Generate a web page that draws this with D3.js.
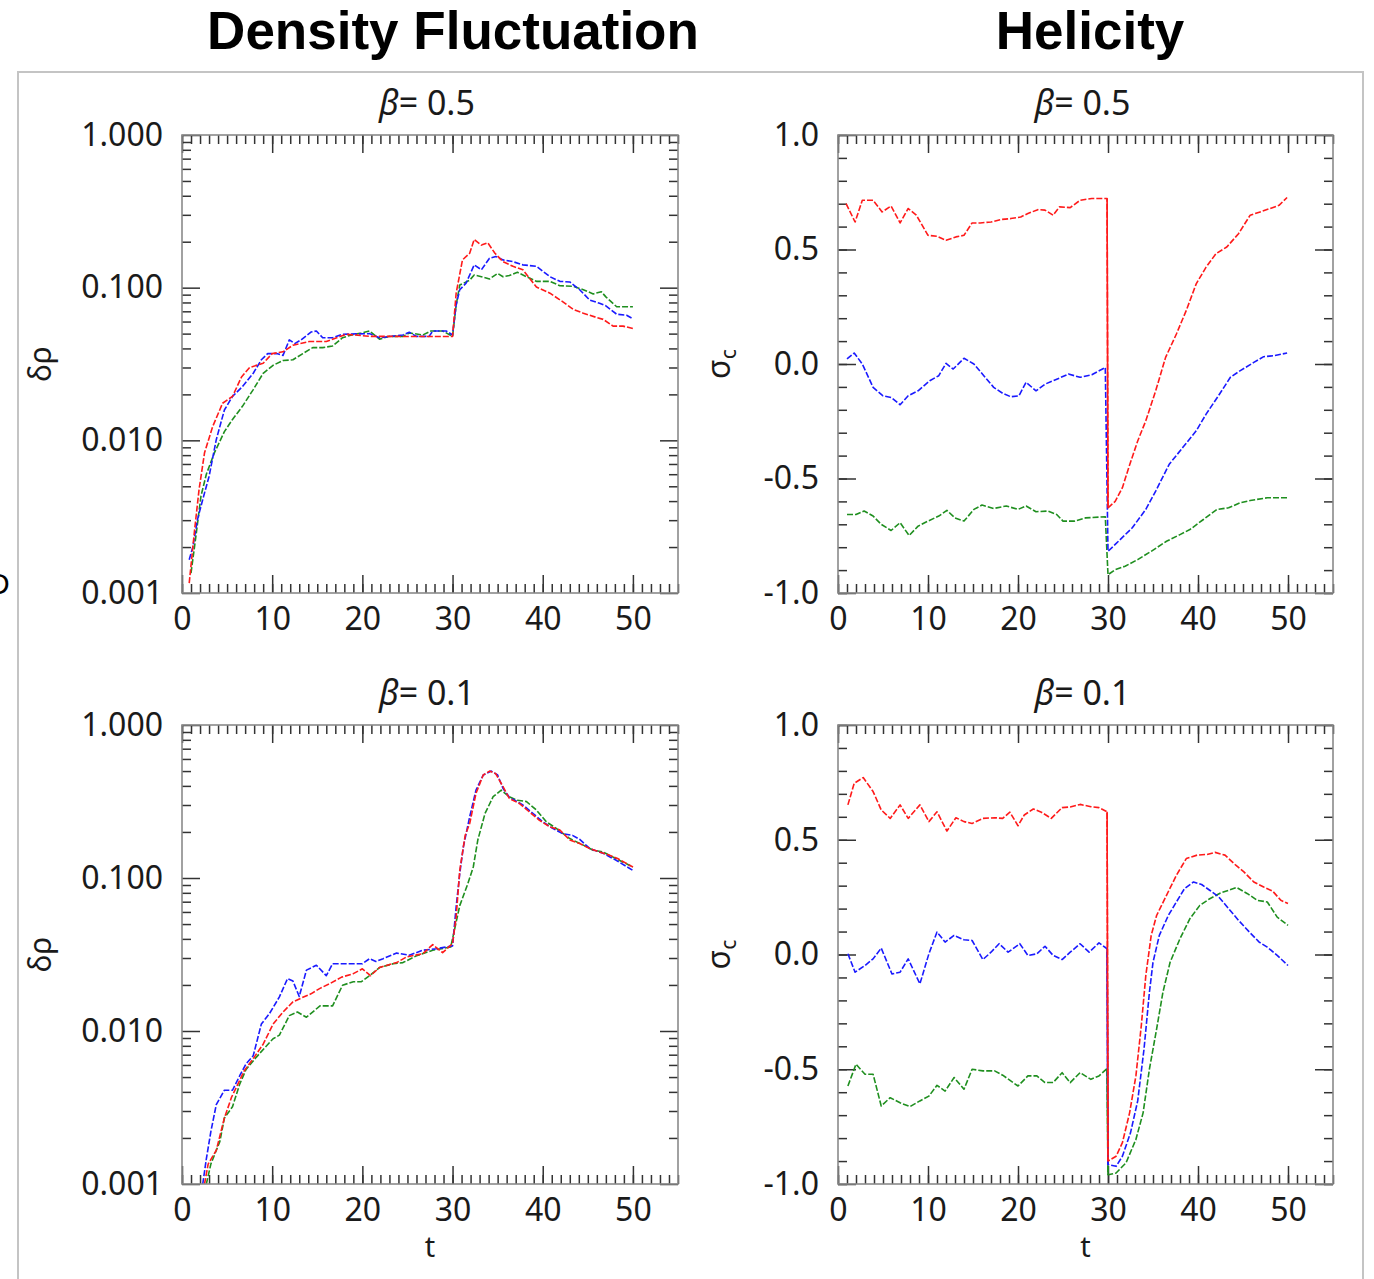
<!DOCTYPE html>
<html>
<head>
<meta charset="utf-8">
<script src="https://cdn.jsdelivr.net/npm/d3@7"></script>
<style>
  body { margin: 0; background: #fff; }
  svg { display: block; }
</style>
</head>
<body>
<script>
// ---- data: [t, value] pairs ----
const densB05Red = [[0.8,0.00116],[1.4,0.0026],[1.9,0.0048],[2.5,0.0083],[3.4,0.0123],[4.5,0.0175],[5.6,0.0194],[6.6,0.026],[7.5,0.030],[9,0.032],[10,0.037],[11.2,0.038],[12.3,0.042],[14.1,0.0444],[16,0.0444],[16.7,0.046],[18.2,0.0495],[20.8,0.048],[25,0.0479],[30,0.0479],[30.4,0.092],[31.1,0.152],[31.9,0.168],[32.4,0.207],[33.2,0.19],[33.9,0.197],[34.7,0.168],[35.6,0.148],[36.7,0.138],[37.8,0.131],[39.3,0.101],[40.8,0.092],[42.2,0.081],[43.4,0.072],[44.5,0.068],[45.9,0.064],[46.7,0.062],[47.8,0.056],[48.9,0.056],[50,0.054]];
const densB05Blue = [[0.8,0.00165],[1.2,0.002],[1.7,0.003],[2.3,0.0041],[3.0,0.0058],[3.8,0.0101],[4.7,0.0158],[5.6,0.0194],[6.7,0.0225],[7.9,0.0275],[8.8,0.0337],[9.5,0.037],[10.5,0.037],[11.2,0.036],[11.9,0.0455],[12.5,0.043],[13.2,0.0455],[14.3,0.0512],[14.9,0.052],[15.6,0.047],[16.7,0.047],[17.8,0.0495],[19.3,0.0498],[20.8,0.05],[21.9,0.047],[24.5,0.049],[25.2,0.051],[26,0.048],[27.4,0.048],[27.8,0.052],[29.3,0.052],[30,0.049],[30.4,0.077],[30.8,0.097],[31.5,0.107],[32.4,0.141],[33.2,0.131],[34.1,0.156],[34.8,0.16],[35.6,0.152],[36.7,0.148],[37.8,0.141],[39.3,0.138],[40.8,0.118],[41.9,0.11],[43,0.109],[44.1,0.097],[45.2,0.083],[46.3,0.079],[47,0.076],[48.2,0.067],[49.3,0.066],[50,0.0625]];
const densB05Green = [[1,0.00135],[1.6,0.0025],[2.1,0.0043],[2.7,0.006],[3.6,0.0083],[4.7,0.0114],[5.6,0.0137],[6.7,0.0167],[7.9,0.0215],[9,0.0275],[10.1,0.031],[11.2,0.0333],[12.3,0.0337],[13.4,0.037],[14.5,0.0405],[15.6,0.0405],[16.7,0.0415],[17.8,0.047],[18.8,0.049],[19.9,0.0505],[20.8,0.052],[21.9,0.046],[23,0.048],[24.5,0.048],[25.2,0.0505],[26.7,0.049],[27.6,0.052],[28.9,0.052],[30,0.048],[30.4,0.077],[30.8,0.104],[31.9,0.112],[32.4,0.121],[33.2,0.118],[34.1,0.114],[35,0.124],[35.6,0.118],[36.3,0.12],[37.2,0.126],[38.2,0.118],[39.3,0.11],[40.8,0.11],[41.9,0.103],[43.4,0.102],[44.5,0.097],[45.6,0.091],[46.5,0.094],[47,0.087],[48.2,0.075],[50,0.075]];

const helB05Red = [[0.9,0.70],[1.9,0.62],[2.7,0.715],[3.9,0.715],[4.9,0.664],[5.9,0.69],[6.9,0.616],[7.8,0.679],[8.7,0.65],[10,0.562],[11,0.558],[12,0.54],[13.1,0.555],[14,0.562],[14.9,0.616],[15.8,0.616],[17,0.62],[18.1,0.631],[19.2,0.635],[20.3,0.642],[21.1,0.657],[22.2,0.674],[23,0.672],[23.9,0.65],[24.6,0.686],[25.8,0.683],[26.9,0.715],[28.2,0.723],[29.9,0.723],[30,-0.628],[30.8,-0.6],[31.6,-0.54],[32.3,-0.453],[33.3,-0.336],[34.2,-0.248],[35.3,-0.117],[36.4,0.029],[37.6,0.131],[38.7,0.234],[39.8,0.35],[40.9,0.423],[42,0.482],[43.2,0.511],[44.5,0.569],[45.8,0.65],[46.9,0.664],[48,0.679],[49,0.693],[49.9,0.727]];
const helB05Blue = [[1,0.022],[1.8,0.048],[2.7,0.0],[3.9,-0.102],[5,-0.139],[5.9,-0.146],[6.9,-0.178],[7.8,-0.139],[8.9,-0.117],[10.2,-0.073],[11.2,-0.051],[12,0.003],[12.8,-0.022],[14,0.025],[15.1,0.0],[16.2,-0.051],[17.3,-0.102],[18.3,-0.128],[19.2,-0.143],[20.1,-0.139],[20.9,-0.08],[22,-0.117],[23,-0.088],[24.1,-0.07],[25.6,-0.044],[26.9,-0.058],[28.2,-0.047],[29.7,-0.015],[30,-0.818],[30.8,-0.788],[32.7,-0.715],[34.2,-0.635],[35.3,-0.555],[36.8,-0.438],[38.3,-0.365],[39.8,-0.292],[40.9,-0.219],[42.4,-0.131],[43.6,-0.058],[44.7,-0.029],[46.2,0.007],[47.3,0.032],[48.4,0.036],[49.9,0.048]];
const helB05Green = [[1,-0.657],[2,-0.657],[2.9,-0.642],[3.9,-0.664],[4.8,-0.70],[5.9,-0.727],[6.9,-0.693],[7.9,-0.749],[8.9,-0.708],[10,-0.686],[11.2,-0.664],[12.1,-0.639],[13,-0.672],[14,-0.686],[15.1,-0.635],[16,-0.616],[17.3,-0.631],[18.7,-0.62],[20,-0.635],[20.9,-0.62],[22,-0.645],[23.3,-0.642],[24.3,-0.657],[25,-0.686],[26.3,-0.686],[27.5,-0.672],[29.7,-0.667],[30,-0.92],[30.8,-0.898],[31.9,-0.883],[33.3,-0.854],[34.8,-0.818],[36.5,-0.774],[38,-0.745],[39.1,-0.723],[40.6,-0.679],[42.1,-0.635],[43.4,-0.628],[44.7,-0.606],[45.8,-0.596],[47.7,-0.584],[49.9,-0.584]];

const densB01Red = [[2.5,0.001],[2.9,0.00135],[3.8,0.00166],[4.7,0.0027],[5.5,0.0037],[6.2,0.0045],[6.9,0.0055],[7.9,0.0066],[9,0.0082],[10.1,0.0111],[11.2,0.0133],[12.3,0.0155],[13.2,0.0164],[14.3,0.0175],[15.3,0.019],[16.4,0.0204],[17.7,0.0225],[19,0.0237],[20,0.0255],[20.9,0.023],[21.9,0.026],[23.8,0.028],[24.9,0.0305],[26.7,0.032],[27.8,0.0367],[28.9,0.0325],[30,0.0373],[30.4,0.0556],[30.8,0.112],[31.4,0.19],[31.9,0.227],[32.6,0.357],[33.4,0.471],[34.1,0.5],[34.8,0.48],[35.6,0.395],[36.3,0.331],[37.4,0.307],[38.5,0.271],[39.6,0.239],[40.8,0.216],[41.9,0.206],[43,0.177],[44.1,0.168],[45.2,0.156],[46.3,0.148],[47.4,0.141],[48.3,0.134],[50,0.118]];
const densB01Blue = [[2.3,0.001],[2.7,0.00146],[3.2,0.0022],[3.8,0.0033],[4.7,0.0041],[5.6,0.0041],[6.4,0.0051],[7.1,0.0061],[7.9,0.0069],[8.8,0.0111],[9.7,0.013],[10.8,0.0167],[11.7,0.022],[12.3,0.0212],[13,0.0168],[13.8,0.025],[14.9,0.0269],[16,0.023],[16.7,0.0275],[18.2,0.0275],[20,0.0275],[20.8,0.0297],[21.5,0.0285],[22.3,0.0297],[23.8,0.0323],[25.2,0.0313],[26.7,0.0337],[28.2,0.0345],[30,0.036],[30.4,0.0647],[30.8,0.107],[31.2,0.16],[31.9,0.251],[32.6,0.375],[33.4,0.471],[34.3,0.5],[35,0.471],[35.6,0.385],[36.3,0.337],[37.8,0.3],[38.9,0.265],[40,0.233],[41.1,0.211],[42.2,0.195],[43.3,0.19],[44.1,0.179],[45.2,0.156],[46.7,0.145],[48.1,0.131],[50,0.112]];
const densB01Green = [[2.7,0.001],[3.2,0.00135],[4.2,0.0019],[4.7,0.0027],[5.6,0.0032],[6.4,0.0045],[7.1,0.0056],[8.2,0.0067],[9.2,0.0078],[10.1,0.0089],[10.8,0.0094],[11.9,0.0126],[12.8,0.0133],[13.8,0.0123],[15.3,0.0146],[16.7,0.0146],[17.8,0.0199],[19,0.021],[19.9,0.021],[20.8,0.023],[21.9,0.026],[23.4,0.0275],[24.5,0.028],[26,0.031],[27.8,0.0337],[29.8,0.0354],[30.8,0.066],[31.7,0.092],[32.3,0.118],[32.8,0.177],[33.6,0.264],[34.5,0.34],[35.4,0.375],[36.3,0.34],[37.1,0.323],[38.2,0.316],[39.3,0.278],[40.4,0.233],[41.5,0.211],[43,0.181],[44.5,0.164],[45.6,0.152],[46.7,0.148],[48.1,0.134],[50,0.118]];

const helB01Red = [[1.1,0.652],[1.8,0.746],[2.8,0.771],[3.9,0.71],[4.8,0.63],[5.8,0.593],[6.9,0.652],[7.8,0.593],[9.1,0.652],[10.1,0.579],[11,0.622],[12.1,0.538],[13.1,0.596],[14,0.579],[14.9,0.571],[16.1,0.593],[17.4,0.596],[18.3,0.593],[19.1,0.62],[20,0.561],[20.7,0.608],[21.7,0.634],[22.6,0.62],[23.7,0.593],[24.9,0.64],[25.8,0.643],[26.9,0.654],[28.1,0.644],[29,0.64],[29.9,0.622],[30,-0.9],[30.9,-0.879],[31.6,-0.82],[32.4,-0.69],[33.1,-0.529],[33.7,-0.31],[34.2,-0.092],[34.8,0.083],[35.4,0.17],[36.5,0.258],[37.6,0.345],[38.7,0.418],[39.9,0.433],[41,0.436],[41.9,0.445],[43,0.433],[44.2,0.389],[45.1,0.36],[46.2,0.316],[47.3,0.294],[48.3,0.276],[49.2,0.236],[50,0.222]];
const helB01Blue = [[1.1,0.003],[1.9,-0.077],[3,-0.048],[3.9,-0.019],[4.8,0.028],[6,-0.085],[6.9,-0.077],[7.8,-0.019],[9.1,-0.128],[10.1,0.003],[11,0.098],[11.9,0.054],[12.9,0.083],[14,0.064],[14.9,0.061],[16.1,-0.022],[17,0.01],[17.9,0.047],[18.9,0.01],[20.2,0.047],[21.1,-0.004],[22.1,0.003],[23,0.036],[23.9,-0.004],[24.9,-0.022],[25.8,0.01],[26.9,0.047],[27.9,0.01],[29,0.051],[29.9,0.025],[30,-0.915],[30.9,-0.923],[31.6,-0.879],[32.5,-0.777],[33.3,-0.638],[34,-0.413],[34.6,-0.165],[35,-0.034],[35.7,0.083],[36.7,0.17],[37.6,0.229],[38.5,0.287],[39.5,0.316],[40.4,0.305],[41.3,0.28],[42.3,0.251],[43.4,0.2],[44.5,0.149],[45.7,0.098],[46.8,0.054],[47.7,0.032],[48.8,-0.004],[50,-0.048]];
const helB01Green = [[1.1,-0.573],[2,-0.478],[3,-0.522],[3.9,-0.522],[4.8,-0.66],[5.8,-0.624],[6.9,-0.646],[8,-0.663],[9.1,-0.638],[10.1,-0.617],[11,-0.57],[11.9,-0.595],[12.9,-0.536],[14,-0.587],[14.9,-0.5],[16.1,-0.507],[17.4,-0.507],[18.3,-0.526],[20,-0.573],[21.1,-0.529],[22.1,-0.529],[23,-0.558],[23.9,-0.558],[24.9,-0.515],[25.8,-0.558],[26.9,-0.515],[28.1,-0.544],[29,-0.529],[29.9,-0.497],[30,-0.96],[30.9,-0.952],[32,-0.908],[33.1,-0.806],[33.9,-0.69],[34.6,-0.5],[35.4,-0.325],[36.1,-0.165],[36.9,-0.034],[38,0.069],[39.1,0.156],[40.2,0.214],[41.3,0.243],[42.5,0.268],[43.4,0.28],[44.3,0.292],[45.5,0.265],[46.6,0.236],[47.7,0.229],[48.8,0.163],[50,0.127]];

// ---- ticks ----
const xMajor = [0, 10, 20, 30, 40, 50];
const xLabels = ["0", "10", "20", "30", "40", "50"];
const xMinor = d3.range(0, 56, 1);
const logMajor = [1, 0.1, 0.01, 0.001];
const logLabels = ["1.000", "0.100", "0.010", "0.001"];
const logMinor = [0.001, 0.01, 0.1].flatMap((d) => d3.range(2, 10).map((k) => d * k));
const linMajor = [1, 0.5, 0, -0.5, -1];
const linLabels = ["1.0", "0.5", "0.0", "-0.5", "-1.0"];
const linMinor = d3.range(-10, 11).map((k) => k / 10);

const colors = { red: "#ff1a1a", blue: "#1a1aff", green: "#1f8f1f" };
const tickFont = "'Noto Sans', 'DejaVu Sans', sans-serif";

const svg = d3.select("body").append("svg").attr("width", 1374).attr("height", 1279);

// outer figure border
svg.append("rect").attr("x", 18).attr("y", 72).attr("width", 1345).attr("height", 1230)
  .attr("fill", "none").attr("stroke", "#c4c4c4").attr("stroke-width", 2);

// column titles
svg.append("text").attr("x", 453).attr("y", 49).attr("text-anchor", "middle")
  .attr("font-family", "'Liberation Sans', Arial, sans-serif").attr("font-weight", "bold").attr("font-size", 53)
  .text("Density Fluctuation");
svg.append("text").attr("x", 1090).attr("y", 49).attr("text-anchor", "middle")
  .attr("font-family", "'Liberation Sans', Arial, sans-serif").attr("font-weight", "bold").attr("font-size", 53)
  .text("Helicity");

// clipped fragment at the left edge (also cut off in the source figure)
svg.append("text").attr("x", -12).attr("y", 594)
  .attr("font-family", "'Liberation Sans', Arial, sans-serif").attr("font-size", 30).text("D");

const panels = [
  { id: "p1", x0: 182, x1: 678, y0: 135, y1: 593, log: true, beta: "0.5", ylab: "dens", xlab: false,
    series: [[densB05Green, "green"], [densB05Blue, "blue"], [densB05Red, "red"]] },
  { id: "p2", x0: 838, x1: 1333, y0: 135, y1: 593, log: false, beta: "0.5", ylab: "hel", xlab: false,
    series: [[helB05Green, "green"], [helB05Blue, "blue"], [helB05Red, "red"]] },
  { id: "p3", x0: 182, x1: 678, y0: 725, y1: 1184, log: true, beta: "0.1", ylab: "dens", xlab: true,
    series: [[densB01Green, "green"], [densB01Blue, "blue"], [densB01Red, "red"]] },
  { id: "p4", x0: 838, x1: 1333, y0: 725, y1: 1184, log: false, beta: "0.1", ylab: "hel", xlab: true,
    series: [[helB01Green, "green"], [helB01Blue, "blue"], [helB01Red, "red"]] },
];

function styleAxis(g) {
  g.select(".domain").remove();
  g.selectAll(".tick line").attr("stroke", "#333").attr("stroke-width", 1.5);
  g.selectAll(".tick text").attr("fill", "#1a1a1a").attr("font-family", tickFont).attr("font-size", 32);
}

panels.forEach((p) => {
  const x = d3.scaleLinear().domain([0, 55]).range([p.x0, p.x1]);
  const y = p.log
    ? d3.scaleLog().domain([0.001, 1]).range([p.y1, p.y0])
    : d3.scaleLinear().domain([-1, 1]).range([p.y1, p.y0]);
  const yMajor = p.log ? logMajor : linMajor;
  const yMinor = p.log ? logMinor : linMinor;
  const yLabels = p.log ? logLabels : linLabels;
  const g = svg.append("g");

  // minor ticks, all four sides
  g.append("g").attr("transform", `translate(0,${p.y1})`)
    .call(d3.axisBottom(x).tickValues(xMinor).tickSize(-9).tickFormat("")).call(styleAxis);
  g.append("g").attr("transform", `translate(0,${p.y0})`)
    .call(d3.axisTop(x).tickValues(xMinor).tickSize(-9).tickFormat("")).call(styleAxis);
  g.append("g").attr("transform", `translate(${p.x0},0)`)
    .call(d3.axisLeft(y).tickValues(yMinor).tickSize(-9).tickFormat("")).call(styleAxis);
  g.append("g").attr("transform", `translate(${p.x1},0)`)
    .call(d3.axisRight(y).tickValues(yMinor).tickSize(-9).tickFormat("")).call(styleAxis);

  // major ticks
  g.append("g").attr("transform", `translate(0,${p.y1})`)
    .call(d3.axisBottom(x).tickValues(xMajor).tickSize(-18).tickPadding(14).tickFormat((d, i) => xLabels[i]))
    .call(styleAxis);
  g.append("g").attr("transform", `translate(0,${p.y0})`)
    .call(d3.axisTop(x).tickValues(xMajor).tickSize(-18).tickFormat("")).call(styleAxis);
  g.append("g").attr("transform", `translate(${p.x0},0)`)
    .call(d3.axisLeft(y).tickValues(yMajor).tickSize(-18).tickPadding(19).tickFormat((d, i) => yLabels[i]))
    .call(styleAxis);
  g.append("g").attr("transform", `translate(${p.x1},0)`)
    .call(d3.axisRight(y).tickValues(yMajor).tickSize(-18).tickFormat("")).call(styleAxis);

  // clip + curves (dashed texture, jumps at t = 30 drawn solid)
  svg.append("defs").append("clipPath").attr("id", `clip-${p.id}`)
    .append("rect").attr("x", p.x0).attr("y", p.y0).attr("width", p.x1 - p.x0).attr("height", p.y1 - p.y0);
  const line = d3.line().x((d) => x(d[0])).y((d) => y(d[1]));
  const curves = g.append("g").attr("clip-path", `url(#clip-${p.id})`);
  p.series.forEach(([pts, c]) => {
    curves.append("path")
      .attr("d", line(pts))
      .attr("fill", "none")
      .attr("stroke", colors[c])
      .attr("stroke-width", 1.6)
      .attr("stroke-dasharray", "6,2")
      .attr("stroke-linejoin", "round");
    const jump = pts.findIndex((d, i) => i > 0 && d[0] - pts[i - 1][0] < 0.2 && Math.abs(d[1] - pts[i - 1][1]) > 0.15);
    if (!p.log && jump > 0) {
      curves.append("path")
        .attr("d", line(pts.slice(jump - 1, jump + 1)))
        .attr("fill", "none")
        .attr("stroke", colors[c])
        .attr("stroke-width", 1.6);
    }
  });

  // frame
  g.append("rect").attr("x", p.x0).attr("y", p.y0).attr("width", p.x1 - p.x0).attr("height", p.y1 - p.y0)
    .attr("fill", "none").attr("stroke", "#8a8a8a").attr("stroke-width", 1.6);

  // panel title
  const title = g.append("text").attr("x", (p.x0 + p.x1) / 2 - 3).attr("y", p.y0 - 20)
    .attr("text-anchor", "middle").attr("font-family", tickFont).attr("font-size", 34).attr("fill", "#1a1a1a");
  title.append("tspan").attr("font-style", "italic").text("β");
  title.append("tspan").text("= " + p.beta);

  // y label
  const cy = (p.y0 + p.y1) / 2;
  if (p.ylab === "dens") {
    g.append("text").attr("transform", `translate(${p.x0 - 131},${cy}) rotate(-90)`)
      .attr("text-anchor", "middle").attr("font-family", tickFont).attr("font-size", 30).attr("fill", "#1a1a1a")
      .text("δρ");
  } else {
    const t = g.append("text").attr("transform", `translate(${p.x0 - 108},${cy}) rotate(-90)`)
      .attr("text-anchor", "middle").attr("font-family", tickFont).attr("font-size", 32).attr("fill", "#1a1a1a");
    t.append("tspan").text("σ");
    t.append("tspan").attr("font-size", 21).attr("dy", 6).text("c");
  }

  if (p.xlab) {
    g.append("text").attr("x", (p.x0 + p.x1) / 2).attr("y", p.y1 + 73)
      .attr("text-anchor", "middle").attr("font-family", tickFont).attr("font-size", 29).attr("fill", "#1a1a1a")
      .text("t");
  }
});
</script>
</body>
</html>
